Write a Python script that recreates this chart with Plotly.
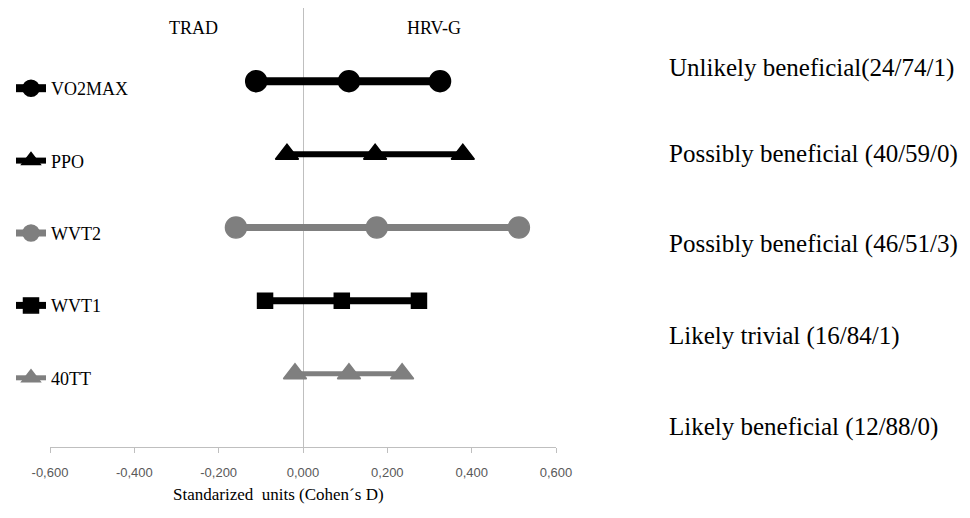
import plotly.graph_objects as go

variables = ["VO2MAX", "PPO", "WVT2", "WVT1", "40TT"]
y_pos = [5, 4, 3, 2, 1]
lower = [-0.111, -0.038, -0.159, -0.090, -0.019]
mean = [0.109, 0.171, 0.175, 0.092, 0.109]
upper = [0.325, 0.379, 0.512, 0.275, 0.235]
outcomes = [
    "Unlikely beneficial(24/74/1)",
    "Possibly beneficial (40/59/0)",
    "Possibly beneficial (46/51/3)",
    "Likely trivial (16/84/1)",
    "Likely beneficial (12/88/0)",
]
tick_vals = [-0.6, -0.4, -0.2, 0.0, 0.2, 0.4, 0.6]
tick_text = ["-0,600", "-0,400", "-0,200", "0,000", "0,200", "0,400", "0,600"]

colors = ["#000000", "#000000", "#7f7f7f", "#000000", "#7f7f7f"]
symbols = ["circle", "triangle-up", "circle", "square", "triangle-up"]
msizes = [21, 20, 21, 15, 20]
lwidths = [8, 6, 7, 7, 5]

SERIF = "Liberation Serif"

# page body has 8px margin; plot area target in window px: x 50..556, y 8..447
OFF = 8
PL, PR, PT, PB = 50, 556, 8, 447
W, H = 970, 518
PW, PH = PR - PL, PB - PT


def px(xw):
    return (xw - PL) / PW


def py(yw):
    return (PB - yw) / PH


fig = go.Figure()
for i, v in enumerate(variables):
    fig.add_trace(go.Scatter(
        x=[lower[i], mean[i], upper[i]],
        y=[y_pos[i]] * 3,
        mode="lines+markers",
        name=v,
        legendgroup=v,
        line=dict(color=colors[i], width=lwidths[i]),
        marker=dict(symbol=symbols[i], size=msizes[i], color=colors[i],
                    line=dict(color=colors[i], width=1.5)),
    ))

for i, t in enumerate(outcomes):
    ypix = [68, 154, 244, 336, 427][i]
    fig.add_annotation(
        x=px(667), y=py(ypix), xref="paper", yref="paper",
        text=t, showarrow=False, xanchor="left", yanchor="middle",
        font=dict(family=SERIF, size=25, color="#000000"),
    )

fig.add_annotation(x=px(193), y=py(28), xref="paper", yref="paper", text="TRAD",
                   showarrow=False, xanchor="center", yanchor="middle",
                   font=dict(family=SERIF, size=18, color="#000000"))
fig.add_annotation(x=px(434), y=py(28), xref="paper", yref="paper", text="HRV-G",
                   showarrow=False, xanchor="center", yanchor="middle",
                   font=dict(family=SERIF, size=18, color="#000000"))
fig.add_annotation(x=px(278), y=py(495), xref="paper", yref="paper",
                   text="Standarized  units (Cohen´s D)", showarrow=False,
                   xanchor="center", yanchor="middle",
                   font=dict(family=SERIF, size=17, color="#000000"))

fig.update_layout(
    width=W, height=H,
    margin=dict(l=PL - OFF, r=W - (PR - OFF), t=PT - OFF, b=H - (PB - OFF), autoexpand=False),
    paper_bgcolor="white", plot_bgcolor="white",
    showlegend=True,
    legend=dict(
        x=px(11), y=py(70), xanchor="left", yanchor="top",
        font=dict(family=SERIF, size=18, color="#000000"),
        tracegroupgap=46, itemwidth=30, bgcolor="rgba(0,0,0,0)",
    ),
    xaxis=dict(
        range=[-0.6, 0.6], tickvals=tick_vals, ticktext=tick_text,
        showgrid=False, zeroline=True, zerolinecolor="#bfbfbf", zerolinewidth=1,
        showline=True, linecolor="#bfbfbf", linewidth=1,
        ticks="outside", ticklen=5, tickcolor="#bfbfbf",
        ticklabelstandoff=8,
        tickfont=dict(family="Liberation Sans", size=13, color="#595959"),
    ),
    yaxis=dict(range=[0, 6], showgrid=False, zeroline=False, showline=False,
               showticklabels=False, ticks=""),
)

fig.write_html("out.html")
